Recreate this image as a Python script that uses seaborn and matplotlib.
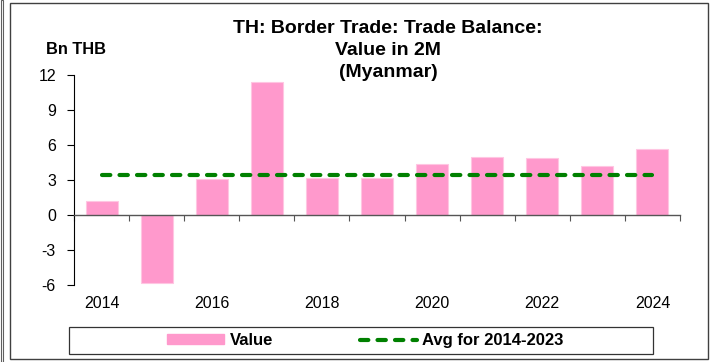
import matplotlib
matplotlib.use("Agg")
import matplotlib.pyplot as plt
from matplotlib.patches import Rectangle, Patch
from matplotlib.lines import Line2D
import seaborn as sns
import pandas as pd
import numpy as np

# Trade balance with Myanmar, Jan-Feb cumulative, Bn THB
years = ["2014", "2015", "2016", "2017", "2018", "2019", "2020", "2021", "2022", "2023", "2024"]
values = [1.2, -5.8, 3.06, 11.4, 3.14, 3.2, 4.34, 4.97, 4.91, 4.23, 5.63]
avg_years = years[:10]
ytick_vals = [-6, -3, 0, 3, 6, 9, 12]

df = pd.DataFrame({"year": years, "value": values})
avg_value = float(np.mean([v for y, v in zip(years, values) if y in avg_years]))

sns.set_theme(style="white")
plt.rcParams["font.family"] = ["Liberation Sans", "DejaVu Sans"]
plt.rcParams["text.color"] = "black"
plt.rcParams["axes.labelcolor"] = "black"
plt.rcParams["xtick.color"] = "black"
plt.rcParams["ytick.color"] = "black"

W, H = 712, 362
fig = plt.figure(figsize=(W / 100, H / 100), dpi=100)
ax = fig.add_axes([74 / W, 1 - 285 / H, (680 - 74) / W, (285 - 75) / H])

pink = "#FF99CC"
green = "#008000"
dash = (0, (2.0, 2.2))

sns.barplot(data=df, x="year", y="value", color=pink, width=0.58,
            edgecolor="#FFC6E2", linewidth=0.8, saturation=1, ax=ax)

ax.plot([0, len(years) - 1], [avg_value, avg_value], color=green, lw=3.0,
        linestyle=dash, dash_capstyle="round", zorder=3)

ax.set_xlim(-0.5, len(years) - 0.5)
ax.set_ylim(-6, 12)
ax.set_yticks(ytick_vals)
ax.set_yticklabels([str(v) for v in ytick_vals], fontsize=11.5, color="black")
ax.tick_params(axis="y", direction="out", length=5, width=0.8, color="black",
               left=True, pad=8)

# x axis runs along zero, ticks at category boundaries
ax.spines["bottom"].set_position(("data", 0))
ax.spines["bottom"].set_color("#555555")
ax.spines["bottom"].set_linewidth(1.0)
ax.spines["left"].set_color("black")
ax.spines["left"].set_linewidth(0.8)
ax.spines["top"].set_visible(False)
ax.spines["right"].set_visible(False)
ax.set_xticks(np.arange(-0.5, len(years), 1.0))
ax.set_xticklabels([])
ax.tick_params(axis="x", direction="out", length=4, width=0.8, color="#555555",
               bottom=True)
ax.set_xlabel("")
ax.set_ylabel("")

for i, y in enumerate(years):
    if i % 2 == 0:
        ax.text(i, -0.09, y, transform=ax.get_xaxis_transform(), ha="center",
                va="center", fontsize=11.5, color="black")

# titles
title_x = 388 / W
for txt, base in [("TH: Border Trade: Trade Balance:", 33),
                  ("Value in 2M", 55),
                  ("(Myanmar)", 77)]:
    fig.text(title_x, 1 - base / H, txt, ha="center", va="baseline",
             fontsize=14, fontweight="bold", color="black")
fig.text(46 / W, 1 - 54 / H, "Bn THB", ha="left", va="baseline",
         fontsize=11.8, fontweight="bold", color="black")

# legend box
fig.patches.append(Rectangle((69 / W, 1 - 354 / H), (653 - 69) / W, 27.5 / H,
                             transform=fig.transFigure, fill=False,
                             edgecolor="#333333", linewidth=0.9))
handles = [Patch(facecolor=pink, edgecolor=pink),
           Line2D([0], [0], color=green, lw=3.0, linestyle=dash,
                  dash_capstyle="round")]
leg = fig.legend(handles, ["Value", "Avg for 2014-2023"], loc="center",
                 bbox_to_anchor=(365.5 / W, 1 - 340.5 / H), ncol=2,
                 frameon=False, handlelength=3.4, handleheight=0.55,
                 columnspacing=5.2, handletextpad=0.35,
                 prop={"weight": "bold", "size": 12})
for t in leg.get_texts():
    t.set_color("black")

# outer frame
fig.patches.append(Rectangle((10 / W, 3 / H), (708 - 10) / W, (359 - 3) / H,
                             transform=fig.transFigure, fill=False,
                             edgecolor="#404040", linewidth=1.0))
fig.patches.append(Rectangle((1 / W, 0), 2 / W, 1,
                             transform=fig.transFigure, fill=False,
                             edgecolor="#606060", linewidth=0.8))

fig.savefig("out.png", dpi=100)
